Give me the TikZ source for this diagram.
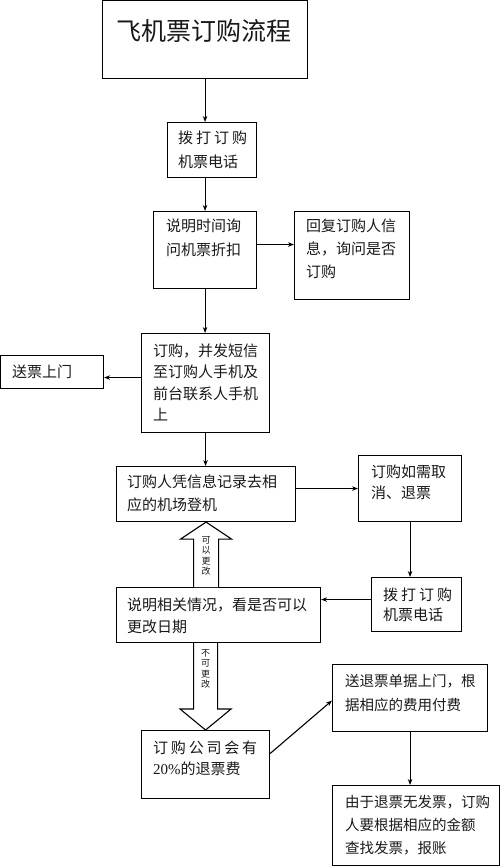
\documentclass[tikz,border=0pt]{standalone}
\usepackage{fontspec}
\setmainfont{Liberation Serif}
\newfontfamily\cjk{Noto Sans CJK SC}
\newfontfamily\lat{Liberation Serif}
\usetikzlibrary{arrows.meta,calc}
\newcommand{\gp}{\hspace{3pt}}
\begin{document}
\begin{tikzpicture}[x=1pt,y=-1pt,
  box/.style={draw=black,line width=1.1pt,anchor=north west,inner sep=0pt,minimum width=#1},
  txt/.style={anchor=north west,inner sep=0pt,align=left,font=\cjk\fontsize{15}{#1}\selectfont,text=black!90},
  txt/.default=23,
  conn/.style={draw=black,line width=1.1pt,-{Stealth[length=6pt,width=4.5pt]}},
  blockarrow/.style={draw=black,line width=1.1pt,fill=white,line join=miter},
  vlab/.style={inner sep=0pt,anchor=north,align=center,font=\cjk\fontsize{9}{10.5}\selectfont,text=black!90}
]
\useasboundingbox (0,0) rectangle (500,866);
% boxes
\node[box=205pt,minimum height=78pt] (title) at (102,0) {};
\node[box=89pt,minimum height=55pt] (b2) at (167,122) {};
\node[box=103pt,minimum height=77pt] (b3) at (153,211) {};
\node[box=115pt,minimum height=88pt] (b4) at (294,211) {};
\node[box=128pt,minimum height=99pt] (b5) at (141,333) {};
\node[box=103pt,minimum height=33pt] (b6) at (0,355) {};
\node[box=179pt,minimum height=55pt] (b7) at (116,466) {};
\node[box=103pt,minimum height=66pt] (b8) at (358,455) {};
\node[box=90pt,minimum height=54pt] (b9) at (371,577) {};
\node[box=204pt,minimum height=55pt] (b10) at (116,587) {};
\node[box=128pt,minimum height=68pt] (b11) at (141,730) {};
\node[box=155pt,minimum height=67pt] (b12) at (332,664) {};
\node[box=167pt,minimum height=80pt] (b13) at (332,785) {};
% texts
\node[inner sep=0pt,font=\cjk\fontsize{25}{30}\selectfont,text=black!90] (ttitle) at (204,31) {飞机票订购流程};
\node[txt=24] (t2) at (178,130.5) {拨\gp 打\gp 订\gp 购\\机票电话};
\node[txt=24] (t3) at (166,218.5) {说明时间询\\问机票折扣};
\node[txt=23] (t4) at (306,218.5) {回复订购人信\\息，询问是否\\订购};
\node[txt=21.5] (t5) at (153,343.5) {订购，并发短信\\至订购人手机及\\前台联系人手机\\上};
\node[txt] (t6) at (12,364.5) {送票上门};
\node[txt] (t7) at (127,474.5) {订购人凭信息记录去相\\应的机场登机};
\node[txt=21.5] (t8) at (371,464.5) {订购如需取\\消、退票};
\node[txt=20.5] (t9) at (383,587.5) {拨\gp 打\gp 订\gp 购\\机票电话};
\node[txt=22] (t10) at (127,597.5) {说明相关情况，看是否可以\\更改日期};
\node[txt=21.5] (t11) at (153,740.5) {订\hspace{2.8pt}购\hspace{2.8pt}公\hspace{2.8pt}司\hspace{2.8pt}会\hspace{2.8pt}有\\{\lat 20\%}的退票费};
\node[txt=24,font=\cjk\fontsize{14.5}{24}\selectfont] (t12) at (345,674.5) {送退票单据上门，根\\据相应的费用付费};
\node[txt=23,font=\cjk\fontsize{14.5}{23}\selectfont] (t13) at (345,795.5) {由于退票无发票，订购\\人要根据相应的金额\\查找发票，报账};
% connectors
\draw[conn] (title.south) -- (title.south |- b2.north);
\draw[conn] (b3.north |- b2.south) -- (b3.north);
\coordinate (a3) at ($(b3.east)+(0,-5.5)$);
\draw[conn] (a3) -- (a3 -| b4.west);
\draw[conn] (b3.south) -- (b3.south |- b5.north);
\coordinate (a5) at ($(b5.west)+(0,-5.5)$);
\draw[conn] (a5) -- (a5 -| b6.east);
\draw[conn] (b5.south) -- (b5.south |- b7.north);
\draw[conn] (b8.west -| b7.east) -- (b8.west);
\draw[conn] (b8.south) -- (b8.south |- b9.north);
\coordinate (a9) at ($(b9.west)+(0,-5)$);
\draw[conn] (a9) -- (a9 -| b10.east);
\coordinate (a11) at ($(b11.east)+(0,-11)$);
\draw[conn] (a11) -- ($(b12.west)+(0,2.5)$);
\draw[conn] (b12.south) -- (b12.south |- b13.north);
% block arrow up
\coordinate (ut) at (b7.south);
\coordinate (ub) at (b7.south |- b10.north);
\draw[blockarrow] ($(ub)+(-12.5,0)$) -- ($(ut)+(-12.5,17)$) -- ($(ut)+(-25.5,17)$) -- (ut) -- ($(ut)+(25.5,17)$) -- ($(ut)+(12.5,17)$) -- ($(ub)+(12.5,0)$);
\node[vlab] (lup) at ($(ut)+(0,14)$) {可\\以\\更\\改};
% block arrow down
\coordinate (dt) at (b11.north);
\coordinate (db) at (b11.north |- b10.south);
\draw[blockarrow] ($(db)+(-12,0)$) -- ($(dt)+(-12,-21)$) -- ($(dt)+(-25.5,-21)$) -- (dt) -- ($(dt)+(25.5,-21)$) -- ($(dt)+(12,-21)$) -- ($(db)+(12,0)$);
\node[vlab] (ldown) at ($(db)+(0,6)$) {不\\可\\更\\改};
\end{tikzpicture}
\end{document}
